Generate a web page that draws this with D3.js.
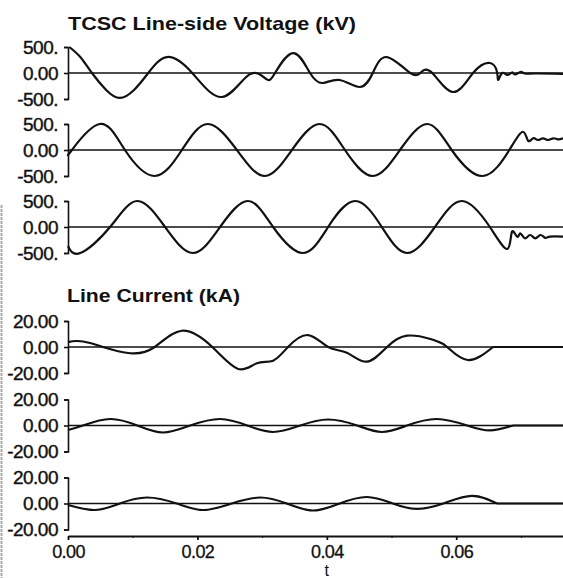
<!DOCTYPE html>
<html>
<head>
<meta charset="utf-8">
<script src="https://cdn.jsdelivr.net/npm/d3@7"></script>
<style>
  body { margin: 0; background: #fff; }
  svg { display: block; }
  .tick text { font-family: "Liberation Sans", Arial, sans-serif; }
</style>
</head>
<body>
<div id="box1"><svg id="box1_svg"></svg></div>
<script>
"use strict";

// waveforms: [t (s), value]
const v_phase_a = [
  [0.0002, 500], [0.0019, 307], [0.0037, 0], [0.0059, -326], [0.0080, -480], [0.0102, -326],
  [0.0124, 0], [0.0153, 307], [0.0192, 0], [0.0238, -461], [0.0280, -30],
  [0.0306, -115], [0.0320, 0], [0.0348, 384], [0.0374, 0], [0.0394, -192],
  [0.0420, -134], [0.0451, -269], [0.0471, 0], [0.0493, 307], [0.0529, 0], [0.0546, 19],
  [0.0563, 0], [0.0595, -365], [0.0626, 0], [0.0652, 192], [0.0663, 19], [0.0665, -134],
  [0.0671, 0], [0.0679, -38], [0.0686, 10], [0.0691, -29], [0.0699, 19], [0.0706, -10],
  [0.0722, -10], [0.0765, -19]
];
const v_phase_b = [
  [0.0002, -58], [0.0006, 0], [0.0049, 500], [0.0088, 0], [0.0134, -500], [0.0176, 0],
  [0.0216, 500], [0.0261, 0], [0.0304, -500], [0.0346, 0], [0.0389, 500], [0.0428, 0],
  [0.0471, -500], [0.0513, 0], [0.0555, 500], [0.0593, 0], [0.0641, -500], [0.0682, 0],
  [0.0703, 351], [0.0711, 179], [0.0719, 225], [0.0726, 192], [0.0734, 225], [0.0742, 192],
  [0.0750, 225], [0.0757, 205], [0.0765, 225]
];
const v_phase_c = [
  [0.0000, -365], [0.0019, -500], [0.0065, 0], [0.0107, 500], [0.0150, 0], [0.0193, -500],
  [0.0235, 0], [0.0278, 500], [0.0317, 0], [0.0363, -500], [0.0402, 0], [0.0444, 500],
  [0.0485, 0], [0.0524, -500], [0.0567, 0], [0.0609, 500], [0.0652, 0], [0.0679, -422],
  [0.0686, -96], [0.0694, -186], [0.0699, -121], [0.0706, -217], [0.0714, -154],
  [0.0722, -217], [0.0730, -154], [0.0737, -205], [0.0745, -186], [0.0765, -186]
];
const i_phase_a = [
  [0.0000, 3.8], [0.0014, 4.6], [0.0034, 3.1], [0.0054, 0], [0.0096, -4.8], [0.0134, 0],
  [0.0176, 12.5], [0.0223, 0], [0.0263, -16.9], [0.0292, -12.5], [0.0317, -10.5], [0.0340, 0],
  [0.0371, 9.2], [0.0402, 0], [0.0431, -4.4], [0.0462, -11.3], [0.0493, 0], [0.0524, 8.7],
  [0.0560, 6.2], [0.0572, 4.1], [0.0586, 0], [0.0618, -10], [0.0657, 0], [0.0765, 0]
];
const i_phase_b = [
  [0.0000, -3.5], [0.0023, 0], [0.0065, 5], [0.0107, 0], [0.0147, -5.4], [0.0189, 0],
  [0.0235, 5], [0.0277, 0], [0.0317, -5], [0.0359, 0], [0.0402, 4.6], [0.0447, 0],
  [0.0485, -5], [0.0524, 0], [0.0570, 5], [0.0617, 0], [0.0652, -3.8], [0.0688, 0],
  [0.0765, 0]
];
const i_phase_c = [
  [0.0000, -1.2], [0.0042, -5], [0.0080, 0], [0.0122, 4.6], [0.0168, 0], [0.0209, -5],
  [0.0253, 0], [0.0297, 4.6], [0.0338, 0], [0.0379, -5.4], [0.0420, 0], [0.0462, 5],
  [0.0502, 0], [0.0539, -4.2], [0.0580, 0], [0.0624, 5.8], [0.0663, 0], [0.0765, 0]
];

// axis values and labels
const v_ticks = [-500, 0, 500];
const v_tick_labels = ["-500.", "0.00", "500."];
const i_ticks = [-20, 0, 20];
const i_tick_labels = ["-20.00", "0.00", "20.00"];
const t_ticks = [0, 0.02, 0.04, 0.06];
const t_minor_ticks = [0.01, 0.03, 0.05, 0.07];
const titles = ["TCSC Line-side Voltage (kV)", "Line Current (kA)"];

// layout
const W = 563, H = 578;
const x0 = 68, x1 = 563;
const half = 26;
const font = '"Liberation Sans", Arial, sans-serif';

const panels = [
  { data: v_phase_a, zero: 73, ticks: v_ticks, labels: v_tick_labels },
  { data: v_phase_b, zero: 150, ticks: v_ticks, labels: v_tick_labels },
  { data: v_phase_c, zero: 227, ticks: v_ticks, labels: v_tick_labels },
  { data: i_phase_a, zero: 347, ticks: i_ticks, labels: i_tick_labels },
  { data: i_phase_b, zero: 425.5, ticks: i_ticks, labels: i_tick_labels },
  { data: i_phase_c, zero: 503.5, ticks: i_ticks, labels: i_tick_labels }
];

const svg = d3.select("#box1_svg").attr("width", W).attr("height", H);

const x = d3.scaleLinear().domain([0, 0.0765]).range([x0, x1]);

// scan edge on the left
svg.append("line")
  .attr("x1", 1.5).attr("x2", 1.5).attr("y1", 205).attr("y2", H)
  .attr("stroke", "#aaa").attr("stroke-width", 2).attr("stroke-dasharray", "3,1");

panels.forEach(pn => {
  const lo = pn.ticks[0], hi = pn.ticks[2];
  const y = d3.scaleLinear().domain([lo, hi]).range([pn.zero + half, pn.zero - half]);

  // zero line
  svg.append("line")
    .attr("x1", x0).attr("x2", x1)
    .attr("y1", y(0)).attr("y2", y(0))
    .attr("stroke", "#111").attr("stroke-width", 1.6);

  // bracket axis
  const ax = svg.append("g")
    .attr("transform", `translate(${x0},0)`)
    .call(d3.axisLeft(y)
      .tickValues(pn.ticks)
      .tickSizeInner(4).tickSizeOuter(4).tickPadding(6)
      .tickFormat((d, i) => pn.labels[i]));
  ax.selectAll("path, line").attr("stroke", "#111").attr("stroke-width", 1.6);
  ax.selectAll("text")
    .attr("fill", "#111")
    .attr("stroke", "#111").attr("stroke-width", 0.4)
    .attr("font-size", 19)
    .attr("letter-spacing", "-0.5px")
    .attr("font-family", font);

  // waveform: smooth part, then the dead flat tail (if any) drawn straight
  let cut = pn.data.length - 1;
  while (cut > 0 && pn.data[cut - 1][1] === 0 && pn.data[cut][1] === 0) cut--;
  const smooth = d3.line()
    .x(d => x(d[0]))
    .y(d => y(d[1]))
    .curve(d3.curveNatural);
  const straight = d3.line()
    .x(d => x(d[0]))
    .y(d => y(d[1]));
  const wave = svg.append("g")
    .attr("fill", "none")
    .attr("stroke", "#111")
    .attr("stroke-width", 2.2)
    .attr("stroke-linejoin", "round");
  wave.append("path").datum(pn.data.slice(0, cut + 1)).attr("d", smooth);
  if (cut < pn.data.length - 1) {
    wave.append("path").datum(pn.data.slice(cut)).attr("d", straight);
  }
});

// titles
svg.append("text")
  .text(titles[0])
  .attr("x", 68).attr("y", 30)
  .attr("font-family", font).attr("font-weight", "bold").attr("font-size", 19)
  .attr("textLength", 288).attr("lengthAdjust", "spacingAndGlyphs")
  .attr("fill", "#111");
svg.append("text")
  .text(titles[1])
  .attr("x", 67).attr("y", 302)
  .attr("font-family", font).attr("font-weight", "bold").attr("font-size", 19)
  .attr("textLength", 173).attr("lengthAdjust", "spacingAndGlyphs")
  .attr("fill", "#111");

// time axis
const x_axis = svg.append("g")
  .attr("transform", "translate(0,536)")
  .call(d3.axisBottom(x)
    .tickValues(t_ticks)
    .tickSizeInner(4).tickSizeOuter(0).tickPadding(5)
    .tickFormat(d3.format(".2f")));
x_axis.selectAll("path, line").attr("stroke", "#111").attr("stroke-width", 1.8);
x_axis.selectAll("text")
  .attr("fill", "#111")
  .attr("stroke", "#111").attr("stroke-width", 0.3)
  .attr("font-size", 18)
  .attr("letter-spacing", "-0.6px")
  .attr("font-family", font);

const x_minor = svg.append("g")
  .attr("transform", "translate(0,536)")
  .call(d3.axisBottom(x)
    .tickValues(t_minor_ticks)
    .tickSizeInner(2).tickSizeOuter(0)
    .tickFormat(""));
x_minor.select(".domain").remove();
x_minor.selectAll("line").attr("stroke", "#111").attr("stroke-width", 1.2);

svg.append("text")
  .text("t")
  .attr("x", x(0.04)).attr("y", 576)
  .attr("text-anchor", "middle")
  .attr("font-family", font).attr("font-size", 16)
  .attr("fill", "#111");
</script>
</body>
</html>
